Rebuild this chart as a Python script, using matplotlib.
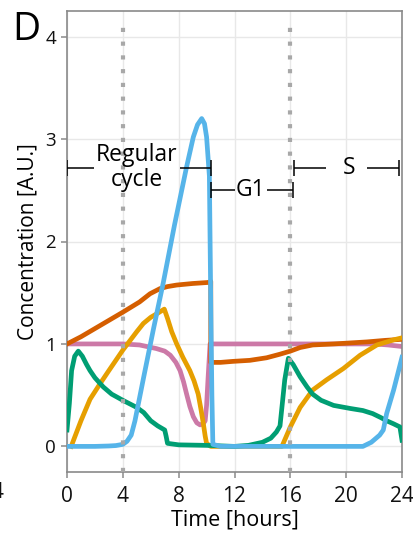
import matplotlib
matplotlib.use("Agg")
import matplotlib.pyplot as plt

plt.rcParams['font.family'] = ['Open Sans', 'DejaVu Sans']

# ---- time courses (hours, concentration A.U.) ----
t_red = [0, 1, 2, 3, 4, 5.2, 5.95, 6.66, 7.2, 7.86, 9.0, 10.1, 10.3,
         10.3, 11.0, 11.9, 13.1, 14.3, 15.26, 16.0, 16.7, 17.6, 19.1, 20.3, 21.5, 22.8, 24]
c_red = [1.0, 1.07, 1.15, 1.23, 1.31, 1.41, 1.49, 1.54, 1.56, 1.575, 1.59, 1.60, 1.61,
         0.82, 0.82, 0.83, 0.84, 0.865, 0.9, 0.93, 0.965, 0.99, 1.0, 1.01, 1.02, 1.035, 1.045]

t_blue = [0, 1, 2, 3, 3.5, 4.0, 4.3, 4.6, 4.87, 5.5, 6.2, 6.9, 7.7, 8.57, 9.05, 9.35, 9.65,
          9.85, 10.0, 10.2, 10.3, 10.38, 10.45, 11, 13, 15, 17, 19, 21.2, 21.8, 22.4,
          22.66, 22.9, 23.4, 24]
c_blue = [0.0, 0.0, 0.0, 0.004, 0.008, 0.02, 0.05, 0.11, 0.25, 0.68, 1.15, 1.6, 2.16, 2.73,
          3.02, 3.14, 3.2, 3.15, 3.02, 2.64, 1.4, 0.5, 0.02, 0.0, 0.0, 0.0, 0.0, 0.0, 0.0,
          0.04, 0.11, 0.16, 0.32, 0.55, 0.87]

t_green = [0, 0.17, 0.33, 0.55, 0.81, 1.1, 1.4, 1.65, 2.0, 2.6, 3.2, 4.0, 5.0, 5.5, 6.0,
           6.5, 7.0, 7.1, 7.2, 8, 10, 12, 13, 14, 14.6, 15.0, 15.26, 15.45, 15.6, 15.86,
           16.2, 16.7, 17.2, 17.6, 18.2, 19.1, 20.3, 21.2, 21.9, 22.5, 22.9, 23.4, 23.85, 24]
c_green = [0.16, 0.42, 0.74, 0.88, 0.93, 0.88, 0.8, 0.74, 0.67, 0.58, 0.51, 0.45, 0.38,
           0.33, 0.25, 0.2, 0.16, 0.1, 0.03, 0.015, 0.01, 0.0, 0.01, 0.04, 0.08, 0.14, 0.2,
           0.45, 0.65, 0.86, 0.8, 0.68, 0.58, 0.51, 0.45, 0.4, 0.37, 0.35, 0.32, 0.28, 0.25,
           0.22, 0.19, 0.06]

t_amber = [0.3, 1.0, 1.65, 2.36, 3.0, 4.0, 5.0, 5.47, 6.0, 6.5, 6.97, 7.2, 7.5, 7.86, 8.3,
           8.8, 9.1, 9.4, 9.6, 9.77, 9.9, 10.0, 10.3, 12, 15.4, 16.0, 16.7, 17.6, 18.6,
           19.8, 21.0, 22.2, 23.4, 24]
c_amber = [0.0, 0.25, 0.46, 0.61, 0.74, 0.94, 1.12, 1.2, 1.26, 1.3, 1.34, 1.25, 1.12, 1.0,
           0.87, 0.74, 0.64, 0.51, 0.36, 0.22, 0.1, 0.03, 0.0, 0.0, 0.0, 0.19, 0.38, 0.55,
           0.65, 0.76, 0.89, 0.99, 1.04, 1.06]

t_pink = [0, 4, 5.2, 6.4, 7.0, 7.4, 7.8, 8.1, 8.35, 8.57, 8.8, 9.05, 9.3, 9.53, 9.75, 9.9,
          10.0, 10.1, 10.25, 16, 22, 23, 24]
c_pink = [1.0, 1.0, 0.99, 0.955, 0.93, 0.89, 0.82, 0.74, 0.63, 0.51, 0.39, 0.29, 0.23,
          0.21, 0.22, 0.25, 0.4, 0.65, 1.0, 1.0, 1.0, 0.99, 0.975]

x_ticks = [0, 4, 8, 12, 16, 20, 24]
y_ticks = [0, 1, 2, 3, 4]
phase_marks = [4, 16]

W, H = 413, 535
fig = plt.figure(figsize=(W / 100, H / 100), dpi=100)
ax = fig.add_axes([67 / W, 1 - 472 / H, (402 - 67) / W, (472 - 11) / H])

ax.set_xlim(0, 24)
ax.set_ylim(-0.25, 4.25)
ax.set_xticks(x_ticks)
ax.set_yticks(y_ticks)
ax.grid(True, color='#e8e8e8', lw=1.0)
ax.set_axisbelow(True)
for s in ax.spines.values():
    s.set_color('#8a8a8a')
    s.set_linewidth(1.2)
ax.tick_params(axis='both', direction='out', length=4, width=1.1, color='#8a8a8a',
               labelcolor='#111111')
ax.tick_params(axis='y', labelsize=13.5, pad=4)
ax.tick_params(axis='x', labelsize=15, pad=6)

lw = 3.4
ax.plot(t_pink, c_pink, color='#CC79A7', lw=lw, zorder=2, solid_joinstyle='round')
ax.plot(t_red, c_red, color='#D55E00', lw=lw, zorder=3, solid_joinstyle='round')
ax.plot(t_amber, c_amber, color='#E69F00', lw=lw, zorder=4, solid_joinstyle='round')
ax.plot(t_green, c_green, color='#009E73', lw=lw, zorder=5, solid_joinstyle='round')
ax.plot(t_blue, c_blue, color='#56B4E9', lw=lw, zorder=6, solid_joinstyle='round')

for xm in phase_marks:
    ax.axvline(xm, ymin=0.0, ymax=0.97, color='#a8a8a8', lw=3, ls=(0, (1, 2.3)), zorder=7)

# phase brackets
def bracket(x0, x1, y, gaps):
    cap = 0.08
    kw = dict(color='black', lw=1.1, zorder=8, solid_capstyle='butt')
    ax.plot([x0, x0], [y - cap, y + cap], **kw)
    ax.plot([x1, x1], [y - cap, y + cap], **kw)
    ax.plot([x0, gaps[0]], [y, y], **kw)
    ax.plot([gaps[1], x1], [y, y], **kw)

bracket(0.0, 10.3, 2.72, (1.93, 8.1))
ax.text(5.0, 2.72, 'Regular\ncycle', ha='center', va='center', fontsize=16.5,
        linespacing=1.05, zorder=8)
bracket(10.3, 16.2, 2.5, (12.0, 14.3))
ax.text(13.15, 2.5, 'G1', ha='center', va='center', fontsize=16.5, zorder=8)
bracket(16.25, 23.8, 2.72, (18.55, 21.5))
ax.text(20.2, 2.72, 'S', ha='center', va='center', fontsize=16.5, zorder=8)

ax.set_xlabel('Time [hours]', fontsize=15.5, labelpad=2)
ax.set_ylabel('Concentration [A.U.]', fontsize=15, labelpad=5)

fig.text(12 / W, 1 - 30 / H, 'D', fontsize=28, ha='left', va='center')
fig.text(4 / W, 1 - 493 / H, '24', fontsize=15, ha='right', va='center', color='#111111')

fig.savefig('out.png', dpi=100)
